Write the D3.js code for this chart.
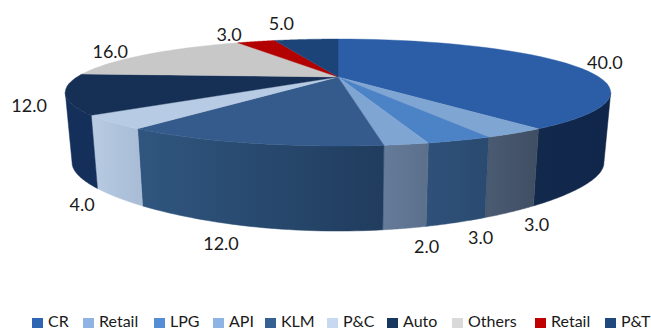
<!DOCTYPE html>
<html>
<head>
<meta charset="utf-8">
<script src="https://cdn.jsdelivr.net/npm/d3@7"></script>
<style>
  html, body { margin: 0; padding: 0; background: #fff; }
  svg { display: block; }
  text { font-family: Lato, "Open Sans", sans-serif; fill: #1a1a1a; }
</style>
</head>
<body>
<svg id="chart" width="651" height="331"></svg>
<script>
// Segment shares, clockwise from twelve o'clock
const categories = ["CR", "Retail", "LPG", "API", "KLM", "P&C", "Auto", "Others", "Retail", "P&T"];
const shares = [40, 3, 3, 2, 12, 4, 12, 16, 3, 5];

// Colours: legend key, upper face, and the left/right ends of each rim shading
const keyColors = ["#2e66b4", "#8fb4e3", "#558ed5", "#8eb4e3", "#376092", "#c6d9f1", "#17375e", "#d9d9d9", "#c00000", "#1f497d"];
const faceColors = ["#2b5ea6", "#7fa5d2", "#4c82c6", "#7fa5d3", "#345b8b", "#b7cbe4", "#152f55", "#c8c8c8", "#b30000", "#1d4478"];
const rimLeft = ["#12294c", "#4a5a71", "#2f5179", "#647b99", "#30567f", "#b8cbe3", "#14305a", "#a8a8a8", "#800000", "#15315a"];
const rimRight = ["#10254a", "#3f4e63", "#2a4a70", "#5c708c", "#203c5e", "#a9bdd6", "#14305a", "#a8a8a8", "#800000", "#15315a"];

// Label nudges (dx, dy) away from each segment's rim anchor
const labelNudge = [[39, 1], [26, 14], [24, 17], [22, 20], [-29, 19], [-35, 9], [-43, -56], [-37, -1], [-27, -5], [-25, -14]];

// Perspective disc: the upper face and the base use separate foreshortening
const disc = { cx: 338, cy: 77, rx: 261, ry: 49, k: 0.29 };
const base = { cy: 147.4, ry: 46, k: 0.45, shrink: 0.975 };

const unit = a => ({ u: Math.sin(a), v: -Math.cos(a) });
function topPoint(a) {
  const { u, v } = unit(a);
  const w = 1 - disc.k * v;
  return [disc.cx + disc.rx * u / w, disc.cy + disc.ry * v / w];
}
function basePoint(a) {
  const { v } = unit(a);
  const [x] = topPoint(a);
  return [disc.cx + (x - disc.cx) * base.shrink, base.cy + base.ry * v / (1 - base.k * v)];
}

const svg = d3.select("#chart");
const defs = svg.append("defs");
const arcs = d3.pie().sort(null).value(d => d)(shares);
const line = d3.line();
const sample = (a0, a1) => d3.range(0, 41).map(i => a0 + (a1 - a0) * i / 40);

// The rim only shows between the two widest points of the disc
const visibleFrom = Math.acos(-disc.k);
const visibleTo = 2 * Math.PI - visibleFrom;

const rimLayer = svg.append("g");
arcs.forEach((d, i) => {
  const a0 = Math.max(d.startAngle, visibleFrom);
  const a1 = Math.min(d.endAngle, visibleTo);
  if (a1 <= a0) return;
  const angles = sample(a0, a1);
  const xs = angles.map(a => topPoint(a)[0]);
  const grad = defs.append("linearGradient")
    .attr("id", "rim" + i)
    .attr("gradientUnits", "userSpaceOnUse")
    .attr("x1", d3.min(xs)).attr("x2", d3.max(xs))
    .attr("y1", 0).attr("y2", 0);
  grad.append("stop").attr("offset", 0).attr("stop-color", rimLeft[i]);
  grad.append("stop").attr("offset", 1).attr("stop-color", rimRight[i]);
  const outline = angles.map(topPoint).concat(angles.slice().reverse().map(basePoint));
  rimLayer.append("path")
    .attr("d", line(outline) + "Z")
    .attr("fill", `url(#rim${i})`)
    .attr("stroke", `url(#rim${i})`)
    .attr("stroke-width", 0.5);
});

const faceLayer = svg.append("g");
arcs.forEach((d, i) => {
  const pts = [[disc.cx, disc.cy]].concat(sample(d.startAngle, d.endAngle).map(topPoint));
  faceLayer.append("path")
    .attr("d", line(pts) + "Z")
    .attr("fill", faceColors[i])
    .attr("stroke", faceColors[i])
    .attr("stroke-width", 0.4);
});

// Value labels sit just outside the rim of their segment
const labelLayer = svg.append("g");
arcs.forEach((d, i) => {
  const mid = (d.startAngle + d.endAngle) / 2;
  const onRim = mid > visibleFrom && mid < visibleTo;
  const [ax, ay] = onRim ? basePoint(mid) : topPoint(mid);
  labelLayer.append("text")
    .attr("class", "value")
    .attr("x", ax + labelNudge[i][0])
    .attr("y", ay + labelNudge[i][1])
    .attr("text-anchor", "middle")
    .attr("dominant-baseline", "middle")
    .attr("font-size", 18)
    .text(d3.format(".1f")(d.data));
});

// Legend strip along the bottom edge
const legendStarts = [32, 83, 154, 213, 265, 327, 387, 452, 535, 605];
const legend = svg.append("g");
categories.forEach((name, i) => {
  legend.append("rect")
    .attr("x", legendStarts[i]).attr("y", 318)
    .attr("width", 11).attr("height", 10)
    .attr("fill", keyColors[i]);
  legend.append("text")
    .attr("x", legendStarts[i] + 16).attr("y", 327)
    .attr("font-size", 16)
    .text(name);
});
</script>
</body>
</html>
